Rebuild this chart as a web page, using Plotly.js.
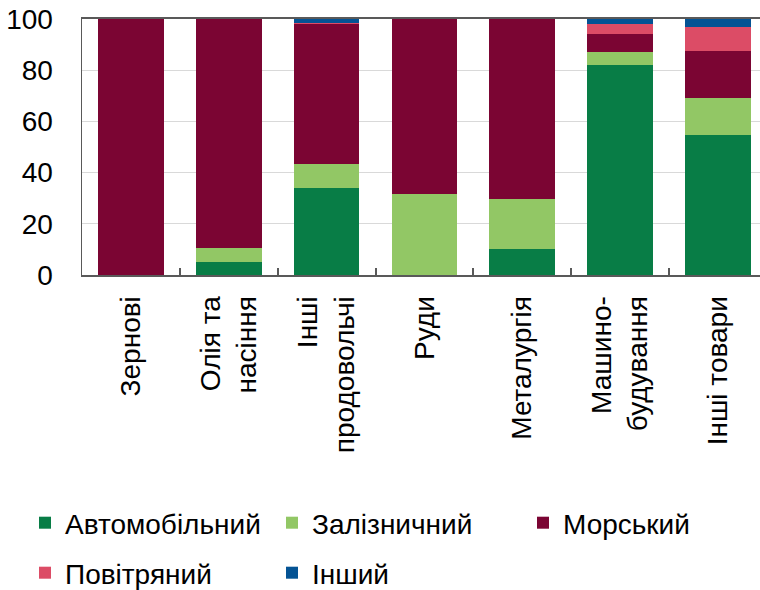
<!DOCTYPE html>
<html>
<head>
<meta charset="utf-8">
<script src="https://cdn.plot.ly/plotly-3.0.1.min.js"></script>
<style>
html,body{margin:0;padding:0;overflow:hidden;background:#fff;}
#chart{width:760px;height:590px;}
</style>
</head>
<body>
<div id="chart"></div>
<script>
var categories = ["Зернові", "Олія та<br>насіння", "Інші<br>продовольчі", "Руди", "Металургія", "Машино-<br>будування", "Інші товари"];
var seriesNames = ["Автомобільний", "Залізничний", "Морський", "Повітряний", "Інший"];
var avto = [0, 5, 34, 0, 10, 82, 54.5];
var zaliznychnyi = [0, 5.5, 9.5, 31.5, 19.5, 5, 14.5];
var morskyi = [100, 89.5, 54.5, 68.5, 70.5, 7, 18.5];
var povitrianyi = [0, 0, 0.5, 0, 0, 4, 9.5];
var inshyi = [0, 0, 1.5, 0, 0, 2, 3];
var yTicks = [0, 20, 40, 60, 80, 100];

var colors = ["#087D46", "#92C765", "#7B0533", "#DC4C66", "#045394"];
var values = [avto, zaliznychnyi, morskyi, povitrianyi, inshyi];
var legendIds = ["legend", "legend2", "legend3", "legend4", "legend5"];
var legendX = [25, 272, 523, 25, 272];
var legendY = [523, 523, 523, 573, 573];

var traces = values.map(function (v, i) {
  return {
    type: "bar",
    name: seriesNames[i],
    x: categories,
    y: v,
    marker: {color: colors[i], line: {width: 0}},
    legend: legendIds[i],
    hoverinfo: "skip"
  };
});

var font = {family: "Liberation Sans, Arial, sans-serif", size: 28, color: "#000"};

var layout = {
  width: 760, height: 590,
  margin: {l: 82, r: 0, t: 19, b: 315, autoexpand: false},
  paper_bgcolor: "#fff", plot_bgcolor: "#fff",
  font: font,
  barmode: "stack",
  bargap: 0.33,
  showlegend: true,
  xaxis: {
    type: "category",
    range: [-0.5, 6.43],
    tickangle: -90,
    tickson: "boundaries",
    ticks: "inside", ticklen: 7, tickwidth: 2, tickcolor: "#595959",
    showline: true, linecolor: "#595959", linewidth: 2,
    mirror: true,
    showgrid: false,
    automargin: false,
    tickfont: font,
    ticklabelstandoff: 8
  },
  yaxis: {
    range: [0, 100],
    tickvals: yTicks,
    ticktext: yTicks.map(String),
    showline: true, linecolor: "#595959", linewidth: 1.5,
    showgrid: true, gridcolor: "#D9D9D9", gridwidth: 1,
    zeroline: false,
    ticks: "",
    automargin: false,
    tickfont: font,
    ticklabelstandoff: 22
  }
};

legendIds.forEach(function (id, i) {
  layout[id] = {
    orientation: "h",
    xref: "container", yref: "container",
    xanchor: "left", yanchor: "middle",
    x: legendX[i] / 760,
    y: 1 - legendY[i] / 590,
    font: font,
    bgcolor: "rgba(0,0,0,0)",
    itemclick: false, itemdoubleclick: false
  };
});

Plotly.newPlot("chart", traces, layout, {displayModeBar: false, staticPlot: true});
</script>
</body>
</html>
